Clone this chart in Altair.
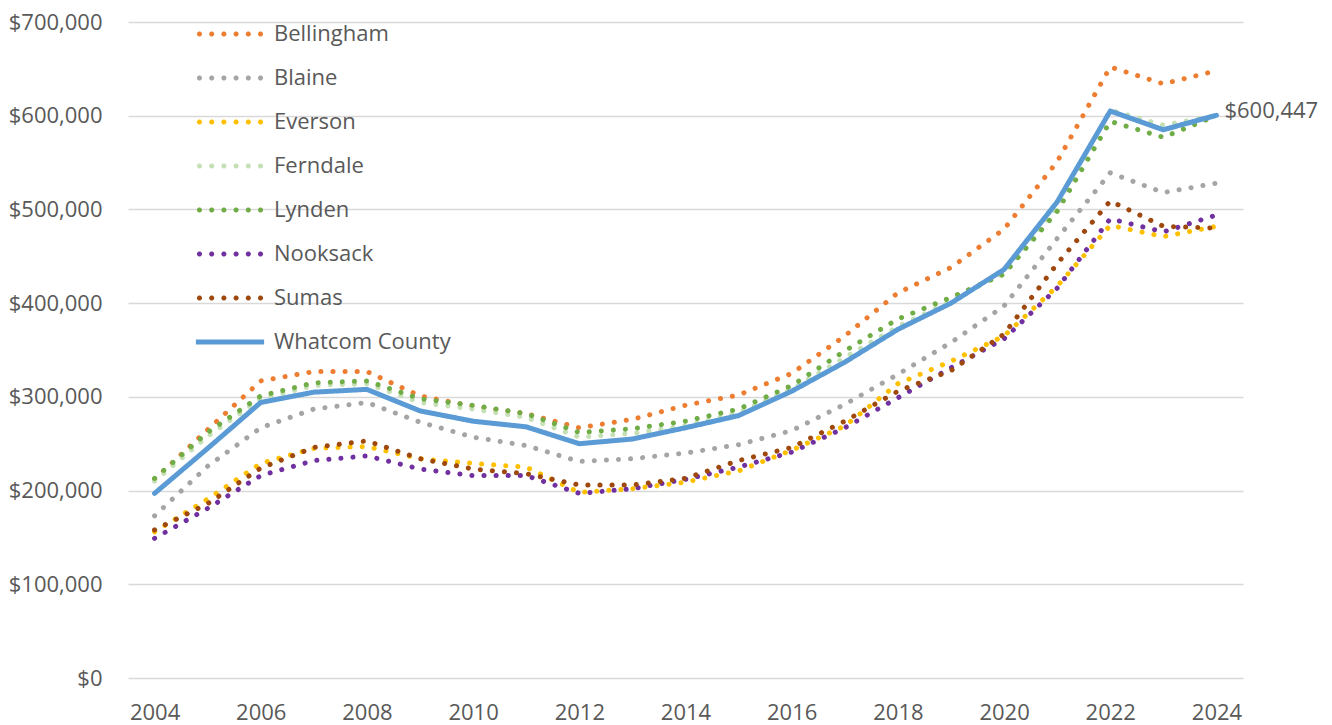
import math
import altair as alt
import pandas as pd

years = list(range(2004, 2025))

series_names = ["Bellingham", "Blaine", "Everson", "Ferndale", "Lynden",
                "Nooksack", "Sumas", "Whatcom County"]
colors = ["#ED7D31", "#A5A5A5", "#FFC000", "#C5E0B4", "#70AD47",
          "#7030A0", "#9E480E", "#5B9BD5"]

bellingham = [212000, 265000, 317000, 327000, 327000, 301000, 290000, 282000, 267000, 276000, 291000,
              302000, 325000, 365000, 411000, 438000, 479000, 551000, 652000, 634000, 648000]
blaine = [173000, 226000, 267000, 287000, 294000, 273000, 257000, 248000, 231000, 234000, 240000,
          249000, 264000, 292000, 324000, 358000, 397000, 469000, 539000, 518000, 528000]
everson = [156000, 191000, 229000, 245000, 247000, 234000, 229000, 225000, 198000, 202000, 209000,
           221000, 243000, 269000, 314000, 338000, 365000, 418000, 483000, 471000, 482000]
ferndale = [210000, 258000, 298000, 312000, 314000, 294000, 287000, 278000, 257000, 261000, 269000,
            283000, 308000, 342000, 375000, 402000, 433000, 503000, 606000, 590000, 600000]
lynden = [213000, 262000, 301000, 315000, 317000, 298000, 291000, 282000, 262000, 266000, 274000,
          287000, 312000, 349000, 383000, 406000, 431000, 498000, 594000, 577000, 600000]
nooksack = [149000, 181000, 216000, 232000, 237000, 223000, 216000, 216000, 197000, 202000, 212000,
            225000, 241000, 267000, 299000, 331000, 362000, 416000, 490000, 476000, 494000]
sumas = [158000, 186000, 224000, 246000, 253000, 234000, 223000, 218000, 206000, 206000, 213000,
         232000, 246000, 274000, 306000, 328000, 367000, 442000, 509000, 482000, 480000]
whatcom = [197000, 245000, 294000, 305000, 308000, 285000, 274000, 268000, 250000, 255000, 267000,
           280000, 306000, 337000, 372000, 400000, 436000, 508000, 605000, 585000, 600447]

x_ticks = list(range(2004, 2025, 2))
y_ticks = [0, 100000, 200000, 300000, 400000, 500000, 600000, 700000]

all_values = [bellingham, blaine, everson, ferndale, lynden, nooksack, sumas, whatcom]
rows = []
for name, vals in zip(series_names, all_values):
    for yr, v in zip(years, vals):
        rows.append({"year": yr, "series": name, "value": v})
df = pd.DataFrame(rows)

# line styles
dashes = [[0.1, 12]] * 7 + [[1, 0]]

# legend symbol geometry (unit = 11 px, since symbol size = 22^2)
SYM = 22


def dots_path(n=6, r=0.235, step=1.11, k=14):
    parts = []
    start = -step * (n - 1) / 2
    for i in range(n):
        cx = start + i * step
        pts = []
        for j in range(k):
            a = 2 * math.pi * j / k
            pts.append(f"{cx + r * math.cos(a):.3f},{r * math.sin(a):.3f}")
        parts.append("M" + "L".join(pts) + "Z")
    return "".join(parts)


solid_path = "M-3.1,-0.23L3.1,-0.23L3.1,0.23L-3.1,0.23Z"
legend_shapes = [dots_path()] * 7 + [solid_path]

FONT = "Open Sans"
TXT = "#595959"

legend = alt.Legend(
    title=None, orient="none", legendX=91, legendY=1, padding=0,
    symbolSize=SYM * SYM, symbolStrokeWidth=0,
    labelFontSize=22, labelFont=FONT, labelColor=TXT, labelOffset=33,
    rowPadding=22, labelLimit=300,
)

base = alt.Chart(df)

color_enc = alt.Color("series:N", scale=alt.Scale(domain=series_names, range=colors), legend=legend)

lines = base.mark_line(strokeWidth=5, strokeCap="round", strokeJoin="round").encode(
    x=alt.X("year:Q",
            scale=alt.Scale(domain=[2003.5, 2024.5], nice=False, zero=False),
            axis=alt.Axis(values=x_ticks, format="d", grid=False, domain=False, ticks=False,
                          labelPadding=24, labelFontSize=22, labelFont=FONT, labelColor=TXT,
                          title=None)),
    y=alt.Y("value:Q",
            scale=alt.Scale(domain=[0, 700000], nice=False),
            axis=alt.Axis(values=y_ticks, format="$,.0f", grid=True, gridColor="#D9D9D9",
                          gridWidth=1.5, domain=False, ticks=False, labelPadding=26,
                          labelFontSize=22, labelFont=FONT, labelColor=TXT, title=None)),
    color=color_enc,
    strokeDash=alt.StrokeDash("series:N", scale=alt.Scale(domain=series_names, range=dashes),
                              legend=None),
)

legend_layer = base.mark_point(filled=True, opacity=1, strokeWidth=0).encode(
    x="year:Q",
    y="value:Q",
    color=color_enc,
    shape=alt.Shape("series:N", scale=alt.Scale(domain=series_names, range=legend_shapes),
                    legend=legend),
).transform_filter("false")

label = base.mark_text(align="left", baseline="middle", dx=8, dy=-4, fontSize=22,
                       font=FONT, color=TXT).encode(
    x="year:Q",
    y="value:Q",
    text=alt.Text("value:Q", format="$,.0f"),
).transform_filter(
    (alt.datum.series == "Whatcom County") & (alt.datum.year == 2024)
)

chart = alt.layer(lines, legend_layer, label).properties(
    width=1115, height=656,
    autosize=alt.AutoSizeParams(type="none"),
    padding={"left": 120, "top": 14, "right": 80, "bottom": 47},
).configure_view(stroke=None)

chart.save("out.html", embed_options={"renderer": "svg", "actions": False})
